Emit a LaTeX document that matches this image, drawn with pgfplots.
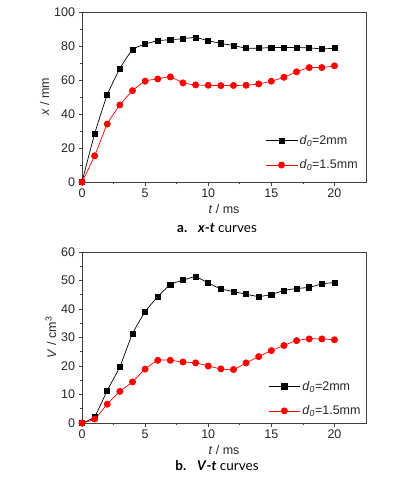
\documentclass[border=0pt]{standalone}
\usepackage{fontspec}
\setmainfont{Liberation Sans}
\newfontfamily\capfont{Lato}
\usepackage{pgfplots}
\pgfplotsset{compat=1.18}
\pgfplotstableread{
t xa xb va vb
0 0 0 0 0
1 28.3 15.4 2.3 1.4
2 51.2 34.1 11.4 6.6
3 66.7 45.3 19.8 11.1
4 77.8 53.7 31.3 14.4
5 81.1 59.3 39.0 18.9
6 83.1 60.6 44.3 22.0
7 83.7 61.8 48.6 22.0
8 84.3 58.3 50.1 21.4
9 85.0 57.1 51.3 21.1
10 83.1 56.9 49.1 20.0
11 81.5 56.7 47.1 19.0
12 80.3 56.8 46.1 18.75
13 78.7 56.9 45.2 21.1
14 78.7 57.7 44.4 23.3
15 79.1 59.3 45.1 25.4
16 79.1 61.6 46.5 27.2
17 79.1 64.8 47.2 28.9
18 78.9 67.3 47.6 29.5
19 78.3 67.3 48.8 29.5
20 78.7 68.3 49.3 29.2
}\data
\pgfplotsset{
  myax/.style={
    scale only axis, width=284pt,
    xmin=0, xmax=22.5, xtick={0,5,...,20},
    minor x tick num=1, minor y tick num=1,
    tick align=outside, tick pos=left,
    major tick length=3.5pt, minor tick length=2pt,
    axis line style={line width=0.8pt, black!75},
    tick style={black!75, line width=0.6pt},
    tick label style={font=\fontsize{12.5}{14}\selectfont, black!85},
    label style={font=\fontsize{12.5}{14}\selectfont, black!85},
    /pgf/number format/assume math mode=true,
    xlabel={\textit{t} / ms},
    xlabel style={yshift=0pt},
    ylabel style={yshift=-2pt},
    legend style={draw=none, fill=none, font=\fontsize{12.5}{14}\selectfont,
      text=black!85, row sep=10pt, anchor=north west},
    legend cell align=left,
    legend image code/.code={
      \draw[mark repeat=2,mark phase=2] plot coordinates {(0cm,0cm) (0.55cm,0cm) (1.1cm,0cm)};
    },
  },
  blk/.style={black, line width=0.7pt, mark=square*, mark size=2.6pt, smooth, tension=0.35},
  rd/.style={red, line width=0.7pt, mark=*, mark size=3.1pt, mark options={fill=red}, smooth, tension=0.35},
}
\begin{document}
\begin{tikzpicture}
\useasboundingbox (0pt,0pt) rectangle (398pt,-478pt);
\begin{axis}[myax, at={(82pt,-182pt)}, anchor=south west, height=170pt,
  ymin=0, ymax=100, ytick={0,20,...,100},
  legend style={at={(0.635,0.30)}},
  ylabel={\textit{x} / mm}]
\addplot[blk] table[x=t,y=xa]{\data};
\addlegendentry{\textit{d}\textsubscript{\textit{0}}=2mm}
\addplot[rd] table[x=t,y=xb]{\data};
\addlegendentry{\textit{d}\textsubscript{\textit{0}}=1.5mm}
\end{axis}
\node[font=\capfont\fontsize{13.5}{15}\selectfont] at (217pt,-228pt) {\textbf{a.}\hspace{0.8em}\textbf{\textit{x}-\textit{t}} curves};
\begin{axis}[myax, at={(82pt,-423pt)}, anchor=south west, height=171pt,
  ymin=0, ymax=60, ytick={0,10,...,60},
  legend style={at={(0.645,0.27)}},
  ylabel={\textit{V} / cm\textsuperscript{3}}]
\addplot[blk] table[x=t,y=va]{\data};
\addlegendentry{\textit{d}\textsubscript{\textit{0}}=2mm}
\addplot[rd] table[x=t,y=vb]{\data};
\addlegendentry{\textit{d}\textsubscript{\textit{0}}=1.5mm}
\end{axis}
\node[font=\capfont\fontsize{13.5}{15}\selectfont] at (217pt,-466pt) {\textbf{b.}\hspace{0.8em}\textbf{\textit{V}-\textit{t}} curves};
\end{tikzpicture}
\end{document}
